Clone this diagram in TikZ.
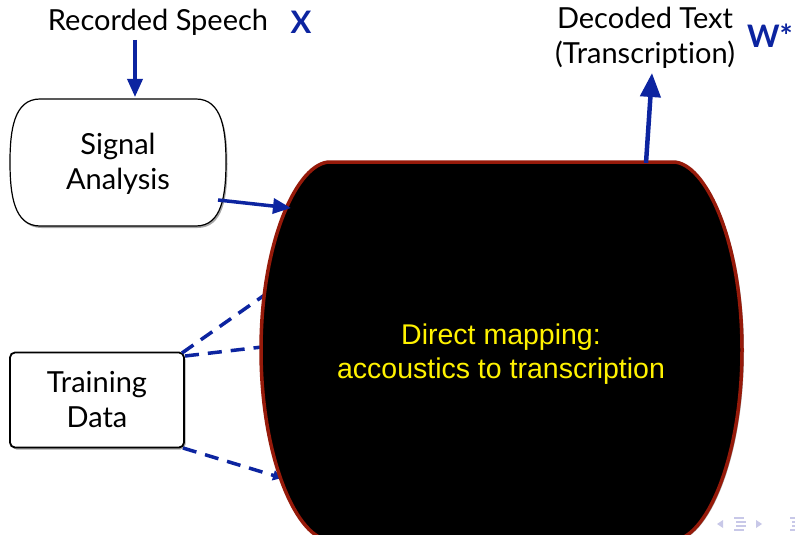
\documentclass[tikz,border=0pt]{standalone}
\usepackage{fontspec}
\setmainfont{Lato}[Ligatures=NoCommon]
\newfontfamily\helv{Liberation Sans}
\usetikzlibrary{shadows,arrows.meta}
\definecolor{dblue}{RGB}{12,36,160}
\definecolor{dred}{RGB}{150,26,10}
\definecolor{navc}{RGB}{200,200,232}
\begin{document}
\begin{tikzpicture}[x=1pt,y=-1pt,
 lbl/.style={font=\fontsize{29}{35}\selectfont, inner sep=0, align=center},
 var/.style={font=\fontsize{31}{30}\selectfont\bfseries, text=dblue, inner sep=0},
 ylbl/.style={font=\helv\fontsize{28.5}{34}\selectfont, text=yellow, inner sep=0, align=center},
 conn/.style={draw=dblue, line width=3.5pt, -{Triangle[length=18pt,width=15pt]}},
 upconn/.style={draw=dblue, line width=4.5pt, -{Triangle[length=24pt,width=20pt]}},
 dconn/.style={draw=dblue, line width=3.5pt, dash pattern=on 14pt off 9pt},
 dconnarr/.style={dconn, -{Triangle[length=9pt,width=10pt]}},
 boxsh/.style={drop shadow={opacity=0.35, shadow xshift=1.5pt, shadow yshift=-2pt, fill=black}},
 navsym/.style={fill=navc, draw=none}
]
\useasboundingbox (0,0) rectangle (795,535);
\fill[white] (0,0) rectangle (795,535);

% Texts
\node[lbl] (rec) at (158,22) {Recorded Speech};
\node[var] (X) at (301,22) {X};
\node[lbl] (dec) at (645,38) {Decoded Text\\(Transcription)};
\node[var] (W) at (770,36) {W*};

% Signal Analysis shape
\path[draw=black, fill=white, line width=1.2pt, boxsh]
  (40,99) -- (196,99) .. controls (222,99) and (226,130) .. (226,162)
  .. controls (226,195) and (222,226) .. (196,226) -- (40,226)
  .. controls (14,226) and (10,195) .. (10,162)
  .. controls (10,130) and (14,99) .. (40,99);
\node[lbl] (sig) at (118,164) {Signal\\Analysis};

% Training Data box
\node[lbl, draw=black, fill=white, line width=1.8pt, rounded corners=5pt,
      minimum width=174pt, minimum height=95pt, boxsh] (train) at (97,400) {Training\\Data};

% coordinates
\coordinate (recS) at (135,40);
\coordinate (sigN) at (135,97);
\coordinate (sigE) at (218,200);
\coordinate (mapW) at (291,208);
\coordinate (tA) at (182,353);
\coordinate (tB) at (185,356);
\coordinate (tC) at (183,448);
\coordinate (d1) at (266,294);
\coordinate (d2) at (262,347);
\coordinate (d3) at (282,478);
\coordinate (mapN) at (646,163);
\coordinate (decS) at (652,73);

% dashed connectors (under the big shape)
\draw[dconn] (tA) -- (d1);
\draw[dconn] (tB) -- (d2);
\draw[dconnarr] (tC) -- (d3);

% Big mapping shape
\path[fill=black, draw=dred, line width=3.5pt, drop shadow={opacity=0.35, shadow xshift=2pt, shadow yshift=-1pt, fill=black}]
  (330,162) -- (673,162) .. controls (705,162) and (742,240) .. (742,350)
  .. controls (742,460) and (705,540) .. (673,540) -- (330,540)
  .. controls (298,540) and (261,460) .. (261,350)
  .. controls (261,240) and (298,162) .. (330,162);
\node[ylbl] (map) at (501,354) {Direct mapping:\\accoustics to transcription};

% connectors
\draw[conn] (recS) -- (sigN);
\draw[conn] (sigE) -- (mapW);
\draw[upconn] (mapN) -- (decS);

% navigation symbols
\fill[navsym] (717,524) -- (723,520) -- (723,528) -- cycle;
\fill[navsym] (734,517) rectangle (744,519);
\fill[navsym] (736,521) rectangle (746,523);
\fill[navsym] (736,525) rectangle (746,527);
\fill[navsym] (734,529) rectangle (744,531);
\fill[navsym] (756,520) -- (762,524) -- (756,528) -- cycle;
\fill[navsym] (790,517) rectangle (795,519);
\fill[navsym] (792,521) rectangle (795,523);
\fill[navsym] (792,525) rectangle (795,527);
\fill[navsym] (790,529) rectangle (795,531);
\end{tikzpicture}
\end{document}
